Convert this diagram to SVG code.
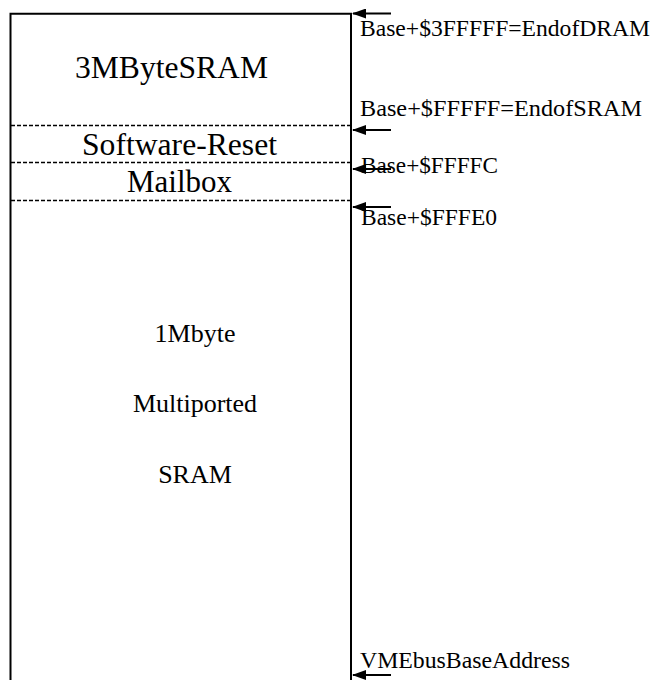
<svg xmlns="http://www.w3.org/2000/svg" width="654" height="680" viewBox="0 0 654 680">
<style>
.frame{fill:none;stroke:#000;stroke-width:2}
.dash{stroke:#000;stroke-width:1.5;stroke-dasharray:4 2}
.arrow{stroke:#000;stroke-width:2;marker-end:url(#ah)}
.big{font-family:"Liberation Serif","Times New Roman",serif;font-size:31px;fill:#000}
.mid{font-family:"Liberation Serif","Times New Roman",serif;font-size:26px;fill:#000;text-anchor:middle}
.lbl{font-family:"Liberation Serif","Times New Roman",serif;font-size:23.5px;fill:#000}
</style>
<defs>
<marker id="ah" markerWidth="7" markerHeight="5" refX="6.5" refY="2.5" orient="auto" markerUnits="strokeWidth">
<path d="M0,0 L7,2.5 L0,5 Z" fill="#000"/>
</marker>
</defs>
<rect width="654" height="680" fill="#fff"/>
<g id="memory-map">
<path class="frame" d="M10.5,680 V13.7 H351 V680"/>
</g>
<g id="sram3">
<text class="big" x="75" y="78" textLength="193" lengthAdjust="spacingAndGlyphs">3MByteSRAM</text>
</g>
<g id="software-reset">
<line class="dash" x1="11" y1="125.5" x2="350" y2="125.5"/>
<text class="big" x="82" y="155" textLength="195" lengthAdjust="spacingAndGlyphs">Software-Reset</text>
</g>
<g id="mailbox">
<line class="dash" x1="11" y1="162.5" x2="350" y2="162.5"/>
<text class="big" x="127" y="192" textLength="105" lengthAdjust="spacingAndGlyphs">Mailbox</text>
</g>
<g id="sram1">
<line class="dash" x1="11" y1="200.5" x2="350" y2="200.5"/>
<text class="mid" x="195" y="342">1Mbyte</text>
<text class="mid" x="195" y="412">Multiported</text>
<text class="mid" x="195" y="483">SRAM</text>
</g>
<g id="connectors">
<line class="arrow" x1="391" y1="13.5" x2="353" y2="13.5"/>
<line class="arrow" x1="391" y1="130" x2="353" y2="130"/>
<line class="arrow" x1="391" y1="169" x2="353" y2="169"/>
<line class="arrow" x1="391" y1="207" x2="353" y2="207"/>
<line class="arrow" x1="391" y1="675" x2="353" y2="675"/>
</g>
<g id="labels">
<text class="lbl" x="360" y="36" textLength="290" lengthAdjust="spacingAndGlyphs">Base+$3FFFFF=EndofDRAM</text>
<text class="lbl" x="360" y="116" textLength="282" lengthAdjust="spacingAndGlyphs">Base+$FFFFF=EndofSRAM</text>
<text class="lbl" x="361" y="173" textLength="137" lengthAdjust="spacingAndGlyphs">Base+$FFFFC</text>
<text class="lbl" x="361" y="225" textLength="136" lengthAdjust="spacingAndGlyphs">Base+$FFFE0</text>
<text class="lbl" x="360" y="668" textLength="210" lengthAdjust="spacingAndGlyphs">VMEbusBaseAddress</text>
</g>
</svg>
